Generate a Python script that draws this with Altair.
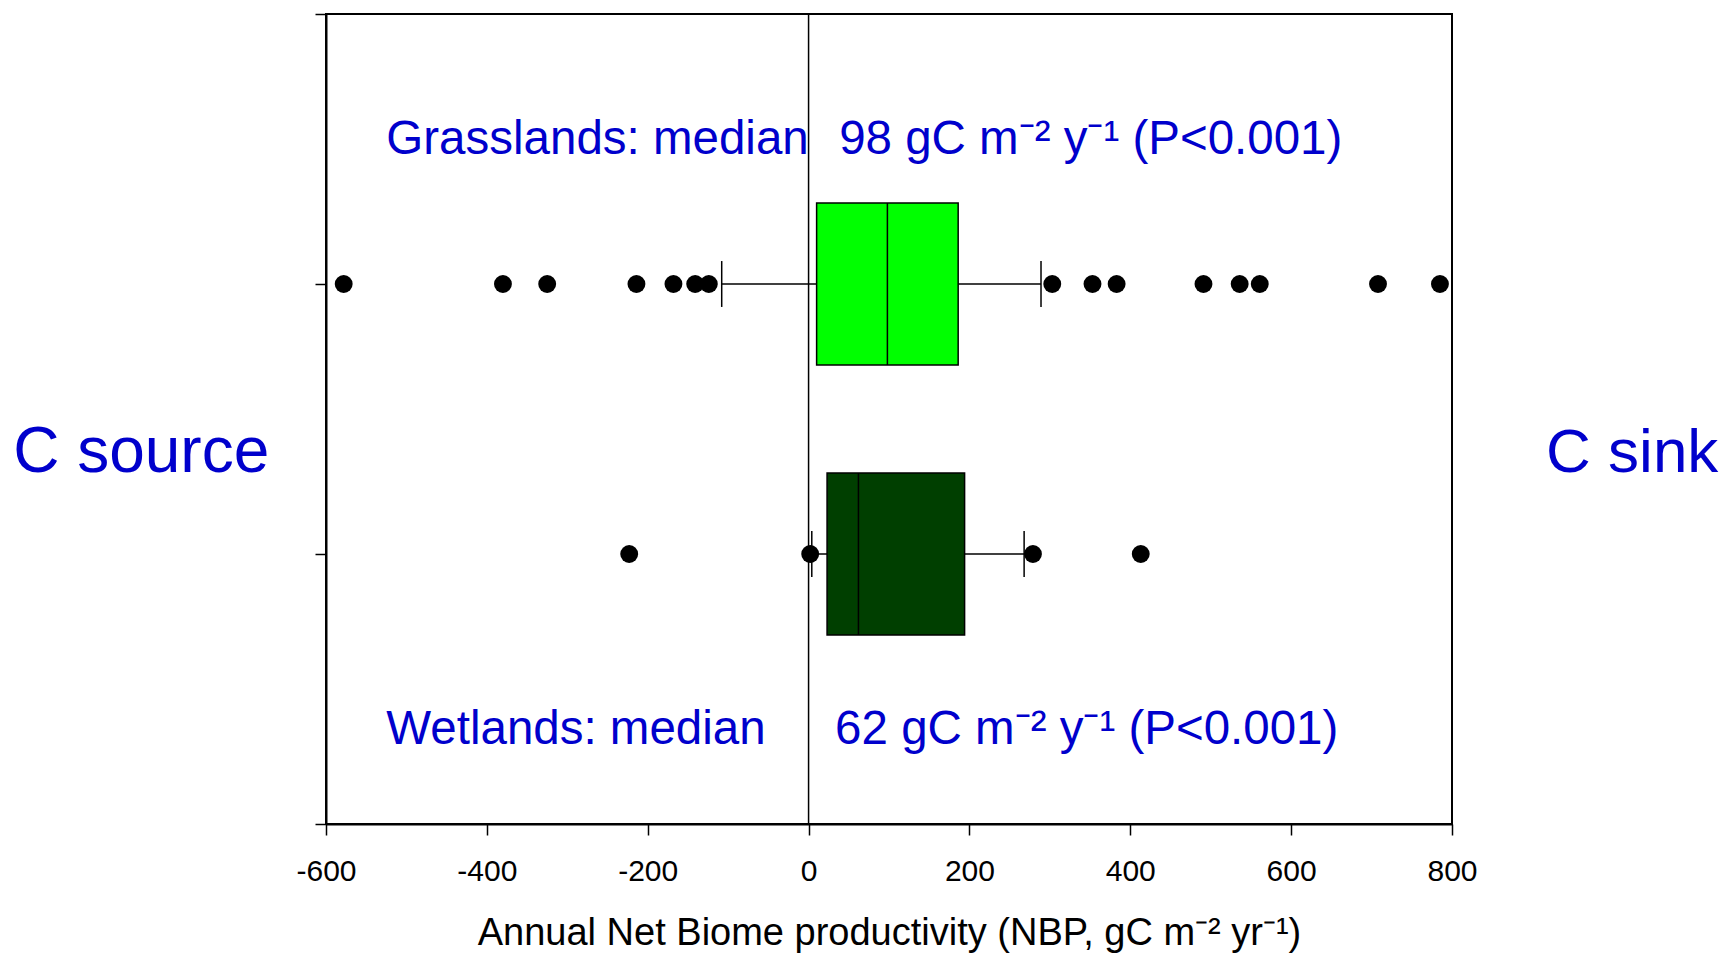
import altair as alt
import pandas as pd

# ---- data ----
groups = ["Grasslands", "Wetlands"]
ypos = [2, 1]
q1 = [10, 23]
median = [98, 62]
q3 = [186, 194]
whisk_lo = [-108, 4]
whisk_hi = [289, 268]
fills = ["#00FF00", "#003F00"]

grass_out = [-578, -380, -325, -214, -168, -141, -124, 303, 353, 383, 491, 536, 561, 708, 785]
wet_out = [-223, 2, 279, 413]

x_ticks = [-600, -400, -200, 0, 200, 400, 600, 800]
y_ticks = [0, 1, 2, 3]

ann_text = [
    "Grasslands: median",
    "98 gC m\u207b\u00b2 y\u207b\u00b9  (P<0.001)",
    "Wetlands: median",
    "62 gC m\u207b\u00b2 y\u207b\u00b9 (P<0.001)",
    "C source",
    "C sink",
]
ann_x = [-525, 38, -525, 33, -989, 917]
ann_y = [2.48, 2.48, 0.296, 0.296, 1.304, 1.304]
ann_size = [47.5, 47.5, 47.5, 47.5, 64, 62]

HALF_BOX = 0.3
HALF_CAP = 0.085

box_df = pd.DataFrame({
    "group": groups,
    "y": ypos,
    "ylo": [v - HALF_BOX for v in ypos],
    "yhi": [v + HALF_BOX for v in ypos],
    "caplo": [v - HALF_CAP for v in ypos],
    "caphi": [v + HALF_CAP for v in ypos],
    "q1": q1, "med": median, "q3": q3,
    "wlo": whisk_lo, "whi": whisk_hi,
})

pts_df = pd.DataFrame({
    "x": grass_out + wet_out,
    "y": [ypos[0]] * len(grass_out) + [ypos[1]] * len(wet_out),
})

ann_df = pd.DataFrame({"text": ann_text, "x": ann_x, "y": ann_y, "size": ann_size})
zero_df = pd.DataFrame({"x": [0], "y": [y_ticks[0]], "y2": [y_ticks[-1]]})

FONT = "Liberation Sans"

xscale = alt.Scale(domain=[x_ticks[0], x_ticks[-1]], nice=False, zero=False)
yscale = alt.Scale(domain=[y_ticks[0], y_ticks[-1]], nice=False, zero=False)

x_axis = alt.Axis(
    values=x_ticks, labelExpr="'' + datum.value",
    title="Annual Net Biome productivity (NBP, gC m\u207b\u00b2 yr\u207b\u00b9)",
    labelFontSize=30, labelFont=FONT, labelColor="black",
    titleFontSize=38, titleFont=FONT, titleColor="black", titleFontWeight="normal",
    tickSize=11, tickColor="black", tickWidth=1.5,
    domainColor="black", domainWidth=2, grid=False,
    labelPadding=21, titlePadding=28, labelFlush=False,
)
y_axis = alt.Axis(
    values=y_ticks, labels=False, title=None,
    tickSize=11, tickColor="black", tickWidth=1.5,
    domainColor="black", domainWidth=2, grid=False,
)

base_box = alt.Chart(box_df)

zero = alt.Chart(zero_df).mark_rule(color="black", strokeWidth=1.5).encode(
    x=alt.X("x:Q", scale=xscale, axis=x_axis),
    y=alt.Y("y:Q", scale=yscale, axis=y_axis),
    y2="y2:Q",
)

wh_lo = base_box.mark_rule(color="black", strokeWidth=1.5).encode(
    x=alt.X("wlo:Q", scale=xscale), x2="q1:Q", y=alt.Y("y:Q", scale=yscale))
wh_hi = base_box.mark_rule(color="black", strokeWidth=1.5).encode(
    x=alt.X("q3:Q", scale=xscale), x2="whi:Q", y=alt.Y("y:Q", scale=yscale))
cap_lo = base_box.mark_rule(color="black", strokeWidth=1.5).encode(
    x=alt.X("wlo:Q", scale=xscale), y=alt.Y("caplo:Q", scale=yscale), y2="caphi:Q")
cap_hi = base_box.mark_rule(color="black", strokeWidth=1.5).encode(
    x=alt.X("whi:Q", scale=xscale), y=alt.Y("caplo:Q", scale=yscale), y2="caphi:Q")

box = base_box.mark_rect(stroke="black", strokeWidth=1.5).encode(
    x=alt.X("q1:Q", scale=xscale), x2="q3:Q",
    y=alt.Y("ylo:Q", scale=yscale), y2="yhi:Q",
    fill=alt.Fill("group:N", scale=alt.Scale(domain=groups, range=fills), legend=None),
)
med = base_box.mark_rule(color="black", strokeWidth=1.5).encode(
    x=alt.X("med:Q", scale=xscale), y=alt.Y("ylo:Q", scale=yscale), y2="yhi:Q")

pts = alt.Chart(pts_df).mark_circle(color="black", opacity=1, size=320).encode(
    x=alt.X("x:Q", scale=xscale), y=alt.Y("y:Q", scale=yscale))

ann = alt.Chart(ann_df).mark_text(
    align="left", baseline="alphabetic", color="#0000CC", font=FONT
).encode(
    x=alt.X("x:Q", scale=xscale), y=alt.Y("y:Q", scale=yscale),
    text="text:N", size=alt.Size("size:Q", scale=None, legend=None),
)

chart = alt.layer(zero, wh_lo, wh_hi, cap_lo, cap_hi, box, med, pts, ann).properties(
    width=1126, height=810,
    autosize=alt.AutoSizeParams(type="none"),
    padding={"left": 318, "top": 6, "right": 268, "bottom": 130},
    background="white",
).configure_view(stroke="black", strokeWidth=2)

chart.save("out.html", embed_options={"renderer": "svg", "actions": False})
